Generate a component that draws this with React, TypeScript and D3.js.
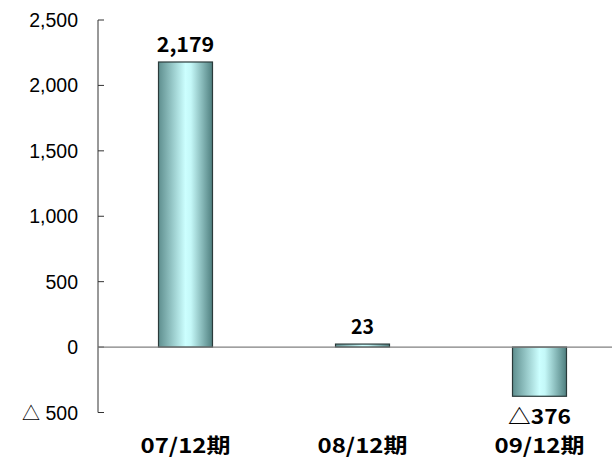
import React from "react";
import * as d3 from "d3";

const categories = ["07/12期", "08/12期", "09/12期"];
const values = [2179, 23, -376];
const valueLabels = ["2,179", "23", "△376"];
const tickValues = [-500, 0, 500, 1000, 1500, 2000, 2500];
const tickLabels = ["△ 500", "0", "500", "1,000", "1,500", "2,000", "2,500"];

export default function App() {
  const W = 612, H = 459;
  const y = d3.scaleLinear().domain([-500, 2500]).range([412.5, 20]);
  const x = d3.scaleBand<string>().domain(categories).range([97, 628]).paddingInner(0.695).paddingOuter(0.3475);
  const axisX = 98;
  const sans = "'Liberation Sans', Arial, sans-serif";
  const jp = "'Noto Sans CJK JP', sans-serif";
  const renderTick = (label: string) => {
    if (label.startsWith("△")) {
      return (
        <>
          <tspan fontFamily={jp} fontSize={18}>△</tspan>
          <tspan>{label.slice(1)}</tspan>
        </>
      );
    }
    return label;
  };
  return (
    <svg width={W} height={H} style={{ position: "absolute", left: 0, top: 0 }}>
      <defs>
        <linearGradient id="barGrad" x1="0" x2="1" y1="0" y2="0">
          <stop offset="0" stopColor="#5f8f8f" />
          <stop offset="0.5" stopColor="#ccffff" />
          <stop offset="0.6" stopColor="#c4f8f8" />
          <stop offset="1" stopColor="#4f7f7f" />
        </linearGradient>
      </defs>
      <rect x={0} y={0} width={W} height={H} fill="#fff" />
      <line x1={axisX} x2={axisX} y1={y(2500)} y2={y(-500)} stroke="#333" strokeWidth={1} />
      {tickValues.map((t, i) => (
        <g key={t}>
          <line x1={axisX} x2={axisX + 6} y1={y(t)} y2={y(t)} stroke="#333" strokeWidth={1} />
          <text x={78} y={y(t)} dy="0.36em" textAnchor="end" fontFamily={sans} fontSize={19.5} fill="#000">
            {renderTick(tickLabels[i])}
          </text>
        </g>
      ))}
      {categories.map((c, i) => {
        const v = values[i];
        const y0 = y(0), y1 = y(v);
        const top = Math.min(y0, y1), h = Math.abs(y1 - y0);
        return (
          <rect key={c} x={x(c)} y={top} width={x.bandwidth()} height={h}
            fill="url(#barGrad)" stroke="#2a3a3a" strokeWidth={1.2} />
        );
      })}
      <line x1={axisX} x2={W} y1={y(0)} y2={y(0)} stroke="#808080" strokeWidth={1.2} />
      {categories.map((c, i) => {
        const v = values[i];
        const cx = (x(c) as number) + x.bandwidth() / 2;
        const ly = v >= 0 ? y(v) - 10 : y(v) + 28;
        const neg = valueLabels[i].startsWith("△");
        return (
          <text key={c} x={cx} y={ly} textAnchor="middle" fontFamily={jp} fontWeight="bold" fontSize={20} fill="#000"
            textLength={neg ? 63 : valueLabels[i].length * 11.5} lengthAdjust="spacingAndGlyphs">
            {valueLabels[i]}
          </text>
        );
      })}
      {categories.map((c) => {
        const cx = (x(c) as number) + x.bandwidth() / 2;
        return (
          <text key={c} x={cx} y={453} textAnchor="middle" fontFamily={jp} fontWeight="bold" fontSize={20.5} fill="#000"
            textLength={90} lengthAdjust="spacingAndGlyphs">
            {c}
          </text>
        );
      })}
    </svg>
  );
}
